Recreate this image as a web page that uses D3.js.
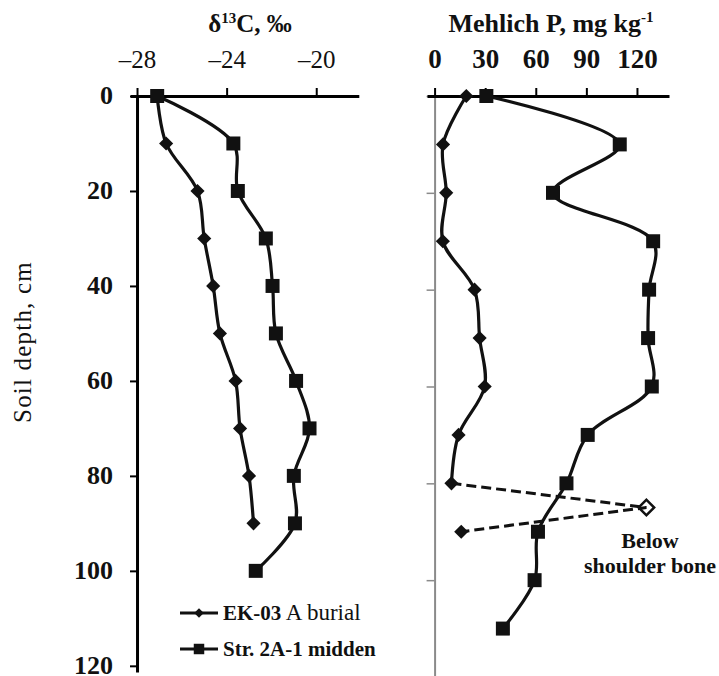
<!DOCTYPE html>
<html>
<head>
<meta charset="utf-8">
<script src="https://cdn.jsdelivr.net/npm/d3@7"></script>
<style>
  body { margin: 0; background: #fff; }
  text { font-family: 'Liberation Serif', 'Times New Roman', serif; fill: #111; }
</style>
</head>
<body>
<svg id="chart"></svg>
<script>
// depths (cm)
const depthEK = [0, 10, 20, 30, 40, 50, 60, 70, 80, 90];
const depthStr = [0, 10, 20, 30, 40, 50, 60, 70, 80, 90, 100];
const depthEKP = [0, 10, 20, 30, 40, 50, 60, 70, 80];
const depthStrP = [0, 10, 20, 30, 40, 50, 60, 70, 80, 90, 100, 110];

// delta 13C, permil
const d13cEK = [-27.1, -26.7, -25.3, -25.0, -24.6, -24.3, -23.6, -23.4, -23.0, -22.8];
const d13cStr = [-27.1, -23.7, -23.5, -22.25, -21.95, -21.8, -20.9, -20.3, -21.0, -20.95, -22.7];

// Mehlich P, mg/kg
const pEK = [18.8, 5.0, 6.9, 4.9, 23.7, 26.7, 29.7, 14.2, 10.0];
const pStr = [30.7, 109.8, 70.2, 129.6, 127.2, 126.6, 128.8, 90.8, 78.2, 61.3, 59.3, 40.5];
// EK-03 below shoulder bone excursion (dashed)
const boneDepth = [80, 85, 90];
const boneP = [10.0, 125.6, 15.8];

const depthTicks = [0, 20, 40, 60, 80, 100, 120];
const d13cTicks = [-28, -24, -20];
const pTicks = [0, 30, 60, 90, 120];

const width = 719, height = 676;
const svg = d3.select('#chart').attr('width', width).attr('height', height);

const xC = d3.scaleLinear().domain([-28.3, -18.1]).range([130.3, 358.8]);
const yL = d3.scaleLinear().domain([0, 121.3]).range([96, 672]);
const xP = d3.scaleLinear().domain([-4.5, 139]).range([427, 669]);
const yR = d3.scaleLinear().domain([0, 120]).range([96, 677]);

const minus = d => (d < 0 ? '\u2013' : '') + Math.abs(d);

// left panel y axis
const gyL = svg.append('g')
  .attr('transform', `translate(${xC(-28)},0)`)
  .call(d3.axisLeft(yL).tickValues(depthTicks).tickSize(7).tickSizeOuter(0).tickPadding(17));
gyL.select('.domain').attr('stroke-width', 3);
gyL.selectAll('.tick line').attr('stroke-width', 2);
gyL.selectAll('.tick text')
  .attr('font-size', 26).attr('font-weight', 'bold').attr('dy', '0.3em')
  .attr('font-family', "'Liberation Serif', serif");

// left panel top axis
const gxC = svg.append('g')
  .attr('transform', `translate(0,${yL(0)})`)
  .call(d3.axisTop(xC).tickValues(d13cTicks).tickSize(8).tickSizeOuter(0).tickPadding(20).tickFormat(minus));
gxC.select('.domain').attr('stroke-width', 3);
gxC.selectAll('.tick line').attr('stroke-width', 2);
gxC.selectAll('.tick text')
  .attr('font-size', 25)
  .attr('font-family', "'Liberation Serif', serif");

// right panel y axis (grey)
const gyR = svg.append('g')
  .attr('transform', `translate(${xP(0)},0)`)
  .call(d3.axisLeft(yR).tickValues(depthTicks).tickSize(8).tickSizeOuter(0).tickFormat(''));
gyR.select('.domain').attr('stroke', '#8a8a8a').attr('stroke-width', 2);
gyR.selectAll('.tick line').attr('stroke', '#8a8a8a').attr('stroke-width', 1.5);

// right panel top axis
const gxP = svg.append('g')
  .attr('transform', `translate(0,${yR(0)})`)
  .call(d3.axisTop(xP).tickValues(pTicks).tickSize(8).tickSizeOuter(0).tickPadding(20));
gxP.select('.domain').attr('stroke-width', 3);
gxP.selectAll('.tick line').attr('stroke-width', 2);
gxP.selectAll('.tick text')
  .attr('font-size', 27).attr('font-weight', 'bold')
  .attr('font-family', "'Liberation Serif', serif");

// titles
const t1 = svg.append('text').attr('x', 250).attr('y', 32)
  .attr('text-anchor', 'middle').attr('font-size', 25).attr('font-weight', 'bold');
t1.append('tspan').text('\u03b4');
t1.append('tspan').attr('font-size', 15).attr('dy', -9).text('13');
t1.append('tspan').attr('dy', 9).text('C, \u2030');

const t2 = svg.append('text').attr('x', 551).attr('y', 32)
  .attr('text-anchor', 'middle').attr('font-size', 26).attr('font-weight', 'bold');
t2.append('tspan').text('Mehlich P, mg kg');
t2.append('tspan').attr('font-size', 15).attr('dy', -10).text('-1');

svg.append('text')
  .attr('transform', 'translate(31,342) rotate(-90)')
  .attr('text-anchor', 'middle').attr('font-size', 25).attr('letter-spacing', 1.2)
  .text('Soil depth, cm');

// series drawing
const curve = d3.curveCatmullRom.alpha(0.5);
const diamond = d3.symbol(d3.symbolSquare, 100);
const square = d3.symbol(d3.symbolSquare, 196);

function series(xs, ys, xScale, yScale, marker) {
  const pts = xs.map((v, i) => [xScale(v), yScale(ys[i])]);
  svg.append('path')
    .attr('d', d3.line().curve(curve)(pts))
    .attr('fill', 'none').attr('stroke', '#111').attr('stroke-width', 3.2);
  svg.append('g').selectAll('path').data(pts).join('path')
    .attr('d', marker === 'square' ? square : diamond)
    .attr('transform', d => `translate(${d[0]},${d[1]})` + (marker === 'square' ? '' : ' rotate(45)'))
    .attr('fill', '#111');
}

series(d13cEK, depthEK, xC, yL, 'diamond');
series(d13cStr, depthStr, xC, yL, 'square');
series(pEK, depthEKP, xP, yR, 'diamond');
series(pStr, depthStrP, xP, yR, 'square');

// dashed excursion
const bonePts = boneP.map((v, i) => [xP(v), yR(boneDepth[i])]);
svg.append('path')
  .attr('d', d3.line()(bonePts))
  .attr('fill', 'none').attr('stroke', '#111').attr('stroke-width', 3)
  .attr('stroke-dasharray', '10,5');
svg.append('path')
  .attr('d', diamond)
  .attr('transform', `translate(${bonePts[2][0]},${bonePts[2][1]}) rotate(45)`)
  .attr('fill', '#111');
svg.append('path')
  .attr('d', d3.symbol(d3.symbolSquare, 120))
  .attr('transform', `translate(${bonePts[1][0]},${bonePts[1][1]}) rotate(45)`)
  .attr('fill', 'none').attr('stroke', '#111').attr('stroke-width', 2.5);

const note = svg.append('text').attr('x', 650).attr('y', 548)
  .attr('text-anchor', 'middle').attr('font-size', 22).attr('font-weight', 'bold');
note.append('tspan').attr('x', 650).text('Below');
note.append('tspan').attr('x', 650).attr('dy', 25).text('shoulder bone');

// legend
const legend = [
  { label: 'EK-03', extra: ' A burial', marker: 'diamond', y: 613 },
  { label: 'Str. 2A-1 midden', extra: '', marker: 'square', y: 649 }
];
legend.forEach(l => {
  svg.append('line').attr('x1', 180).attr('x2', 218).attr('y1', l.y).attr('y2', l.y)
    .attr('stroke', '#111').attr('stroke-width', 3);
  svg.append('path')
    .attr('d', d3.symbol(d3.symbolSquare, l.marker === 'square' ? 110 : 45))
    .attr('transform', `translate(199,${l.y})` + (l.marker === 'square' ? '' : ' rotate(45)'))
    .attr('fill', '#111');
  const t = svg.append('text').attr('x', 223).attr('y', l.y + 7).attr('font-size', 21);
  t.append('tspan').attr('font-weight', 'bold').text(l.label);
  if (l.extra) t.append('tspan').attr('font-size', 23).text(l.extra);
});
</script>
</body>
</html>
